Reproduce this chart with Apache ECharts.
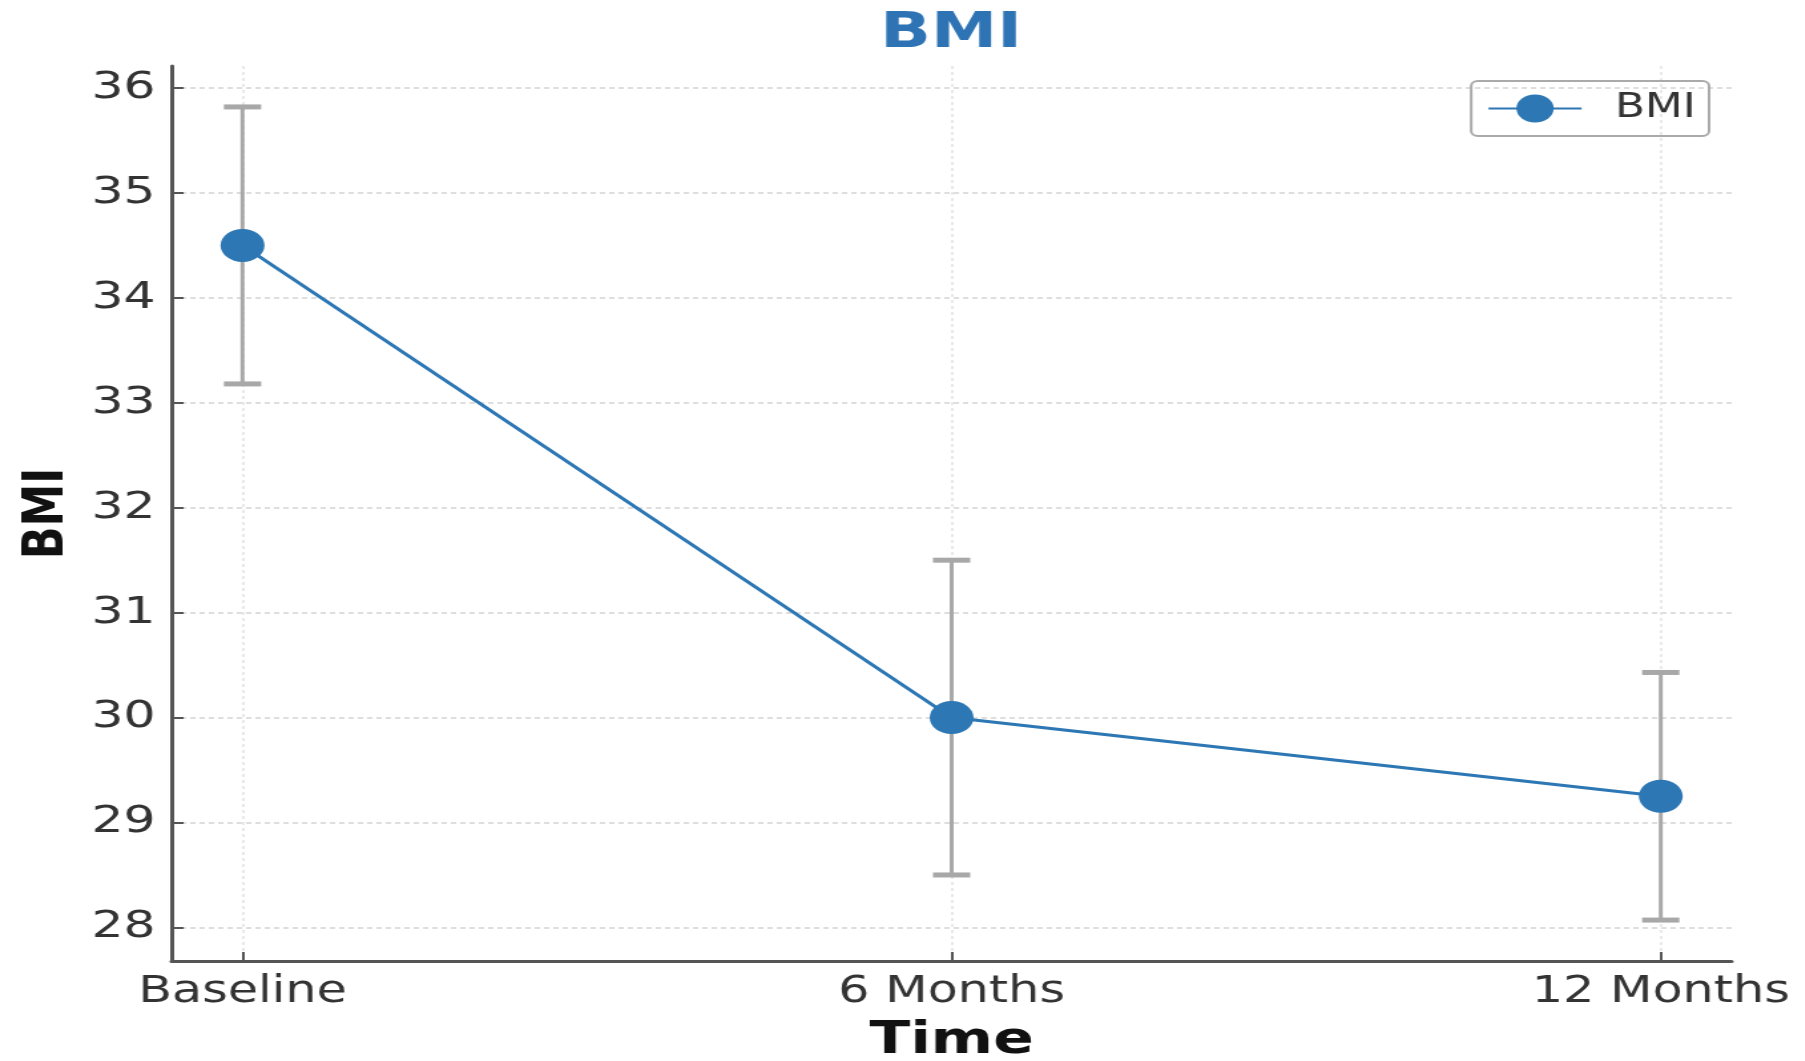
<!DOCTYPE html>
<html>
<head>
<meta charset="utf-8">
<script src="https://cdn.jsdelivr.net/npm/echarts@6/dist/echarts.min.js"></script>
<style>
html,body{margin:0;padding:0;background:#fff;overflow:hidden;width:1805px;height:1061px;}
#chart{width:1357px;height:1061px;transform:scaleX(1.33);transform-origin:0 0;}
</style>
</head>
<body>
<div id="chart"></div>
<script>
const categories = ['Baseline', '6 Months', '12 Months'];
const bmiMean = [34.5, 30.0, 29.25];
const bmiSd = [1.32, 1.5, 1.18];
const yTicks = [28, 29, 30, 31, 32, 33, 34, 35, 36];
const xTicks = [0, 1, 2];

const chart = echarts.init(document.getElementById('chart'));
const font = 'DejaVu Sans';
const lineData = bmiMean.map((v, i) => [i, v]);
const errData = bmiMean.map((v, i) => [i, v - bmiSd[i], v + bmiSd[i]]);

chart.setOption({
  animation: false,
  backgroundColor: '#fff',
  title: {
    text: 'BMI', left: 710, top: 4, textAlign: 'center',
    textStyle: {fontFamily: font, fontWeight: 'bold', fontSize: 50, color: '#2e74b5'}
  },
  legend: {
    data: ['BMI'], right: 72, top: 81,
    itemWidth: 70, itemHeight: 35,
    padding: [11, 10, 11, 12],
    borderColor: '#aaa', borderWidth: 2, borderRadius: 5,
    textStyle: {fontFamily: font, fontSize: 33, color: '#333', padding: [0, 0, 0, 20]}
  },
  grid: {left: 129, right: 55, top: 66, bottom: 100, containLabel: false, outerBoundsMode: 'none'},
  xAxis: {
    type: 'value', min: -0.1, max: 2.1,
    name: 'Time', nameLocation: 'middle', nameGap: 58,
    nameTextStyle: {fontFamily: font, fontWeight: 'bold', fontSize: 45, color: '#111'},
    axisLine: {show: true, onZero: false, lineStyle: {color: '#555', width: 3}},
    axisTick: {show: true, inside: true, length: 9, customValues: xTicks, lineStyle: {color: '#555', width: 2}},
    axisLabel: {customValues: xTicks, margin: 13, fontFamily: font, fontSize: 37, color: '#333',
      formatter: v => categories[Math.round(v)]},
    splitLine: {show: true, lineStyle: {color: '#e2e2e2', type: [3, 3], width: 1.5}}
  },
  yAxis: {
    type: 'value', min: 27.68, max: 36.21,
    name: 'BMI', nameLocation: 'middle', nameGap: 72,
    nameTextStyle: {fontFamily: font, fontWeight: 'bold', fontSize: 43, color: '#111'},
    axisLine: {show: true, onZero: false, lineStyle: {color: '#555', width: 3}},
    axisTick: {show: true, inside: true, length: 9, customValues: yTicks, lineStyle: {color: '#555', width: 2}},
    axisLabel: {customValues: yTicks, margin: 12, fontFamily: font, fontSize: 38, color: '#333'},
    splitLine: {show: true, lineStyle: {color: '#dedede', type: [4, 3], width: 2}}
  },
  series: [
    {
      type: 'custom', name: 'err', z: 1, silent: true,
      data: errData,
      renderItem: function (params, api) {
        const x = api.value(0);
        const lo = api.coord([x, api.value(1)]);
        const hi = api.coord([x, api.value(2)]);
        const hw = 14;
        const st = {stroke: '#a8a8a8', lineWidth: 3};
        const cs = {stroke: '#a8a8a8', lineWidth: 5};
        return {type: 'group', children: [
          {type: 'line', shape: {x1: hi[0], y1: hi[1], x2: lo[0], y2: lo[1]}, style: st},
          {type: 'line', shape: {x1: hi[0] - hw, y1: hi[1], x2: hi[0] + hw, y2: hi[1]}, style: cs},
          {type: 'line', shape: {x1: lo[0] - hw, y1: lo[1], x2: lo[0] + hw, y2: lo[1]}, style: cs}
        ]};
      }
    },
    {
      type: 'line', name: 'BMI', z: 5,
      data: lineData,
      symbol: 'circle', symbolSize: 33,
      lineStyle: {color: '#2c77b4', width: 3},
      itemStyle: {color: '#2c77b4'}
    }
  ]
});
</script>
</body>
</html>
